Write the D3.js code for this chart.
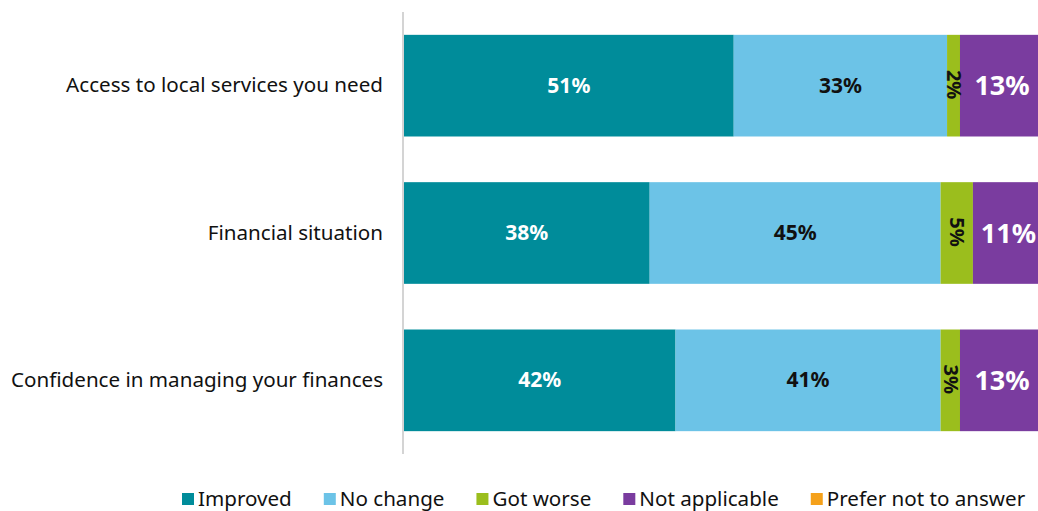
<!DOCTYPE html>
<html>
<head>
<meta charset="utf-8">
<script src="https://cdn.jsdelivr.net/npm/d3@7"></script>
<style>
  html, body { margin: 0; padding: 0; background: #fff; overflow: hidden; }
  svg { display: block; font-family: "Noto Sans", sans-serif; }
</style>
</head>
<body>
<svg id="chart" width="1038" height="511"></svg>
<script>
// Survey outcomes, percentage of respondents per category
const categories = [
  "Access to local services you need",
  "Financial situation",
  "Confidence in managing your finances"
];
const seriesNames = ["Improved", "No change", "Got worse", "Not applicable", "Prefer not to answer"];
const improved      = [51, 38, 42];
const noChange      = [33, 45, 41];
const gotWorse      = [2, 5, 3];
const notApplicable = [13, 11, 13];
const preferNot     = [1, 1, 1];

const colors = ["#008c9a", "#6cc3e7", "#9bbe1d", "#7a3c9f", "#f5a11a"];
const labelColors = ["#ffffff", "#111111", "#111111", "#ffffff", "#111111"];

const seriesValues = [improved, noChange, gotWorse, notApplicable, preferNot];
const rows = categories.map((c, i) => {
  const r = { category: c };
  seriesNames.forEach((s, k) => { r[s] = seriesValues[k][i]; });
  return r;
});

const svg = d3.select("#chart");
const x = d3.scaleLinear().domain([0, 100]).range([404, 1050.5]);
const y = d3.scaleBand().domain(categories).range([12, 454]).paddingInner(0.31).paddingOuter(0.155);

const stacked = d3.stack().keys(seriesNames)(rows);

// Bars
const layers = svg.append("g").selectAll("g")
  .data(stacked).join("g")
  .attr("fill", (d, i) => colors[i]);

layers.selectAll("rect")
  .data(d => d.map(p => ({ p, key: d.key })))
  .join("rect")
  .attr("x", d => x(d.p[0]))
  .attr("y", d => y(d.p.data.category))
  .attr("width", d => Math.max(0, x(d.p[1]) - x(d.p[0])))
  .attr("height", y.bandwidth());

// Value labels
stacked.forEach((layer, k) => {
  if (seriesNames[k] === "Prefer not to answer") return;
  const g = svg.append("g");
  layer.forEach(p => {
    const v = p[1] - p[0];
    const cx = (x(p[0]) + x(p[1])) / 2;
    const cy = y(p.data.category) + y.bandwidth() / 2 - 1;
    const name = seriesNames[k];
    const t = g.append("text")
      .attr("text-anchor", "middle")
      .attr("dominant-baseline", "central")
      .attr("fill", labelColors[k])
      .attr("font-weight", "bold")
      .text(v + "%");
    if (name === "Got worse") {
      t.attr("font-size", 20).attr("transform", `translate(${cx + 1},${cy}) rotate(90)`);
    } else if (name === "Not applicable") {
      t.attr("font-size", 27).attr("x", cx).attr("y", cy);
    } else {
      t.attr("font-size", 21).attr("x", cx).attr("y", cy);
    }
  });
});

// Category axis
const axis = svg.append("g")
  .attr("transform", "translate(403,0)")
  .call(d3.axisLeft(y).tickSize(0).tickPadding(20));
axis.select(".domain").attr("stroke", "#d4d4d4").attr("stroke-width", 2)
  .attr("d", "M0,12V454");
axis.selectAll("text")
  .attr("font-size", 20.6)
  .attr("font-family", "'Noto Sans', sans-serif")
  .attr("fill", "#111");

// Legend
const legend = svg.append("g").attr("transform", "translate(182,0)");
let lx = 0;
seriesNames.forEach((s, i) => {
  const item = legend.append("g").attr("transform", `translate(${lx},0)`);
  item.append("rect").attr("x", 0).attr("y", 493).attr("width", 12).attr("height", 12).attr("fill", colors[i]);
  const t = item.append("text").attr("x", 16).attr("y", 506)
    .attr("font-size", 20.6).attr("fill", "#111").text(s);
  lx += 16 + t.node().getComputedTextLength() + 32;
});
</script>
</body>
</html>
